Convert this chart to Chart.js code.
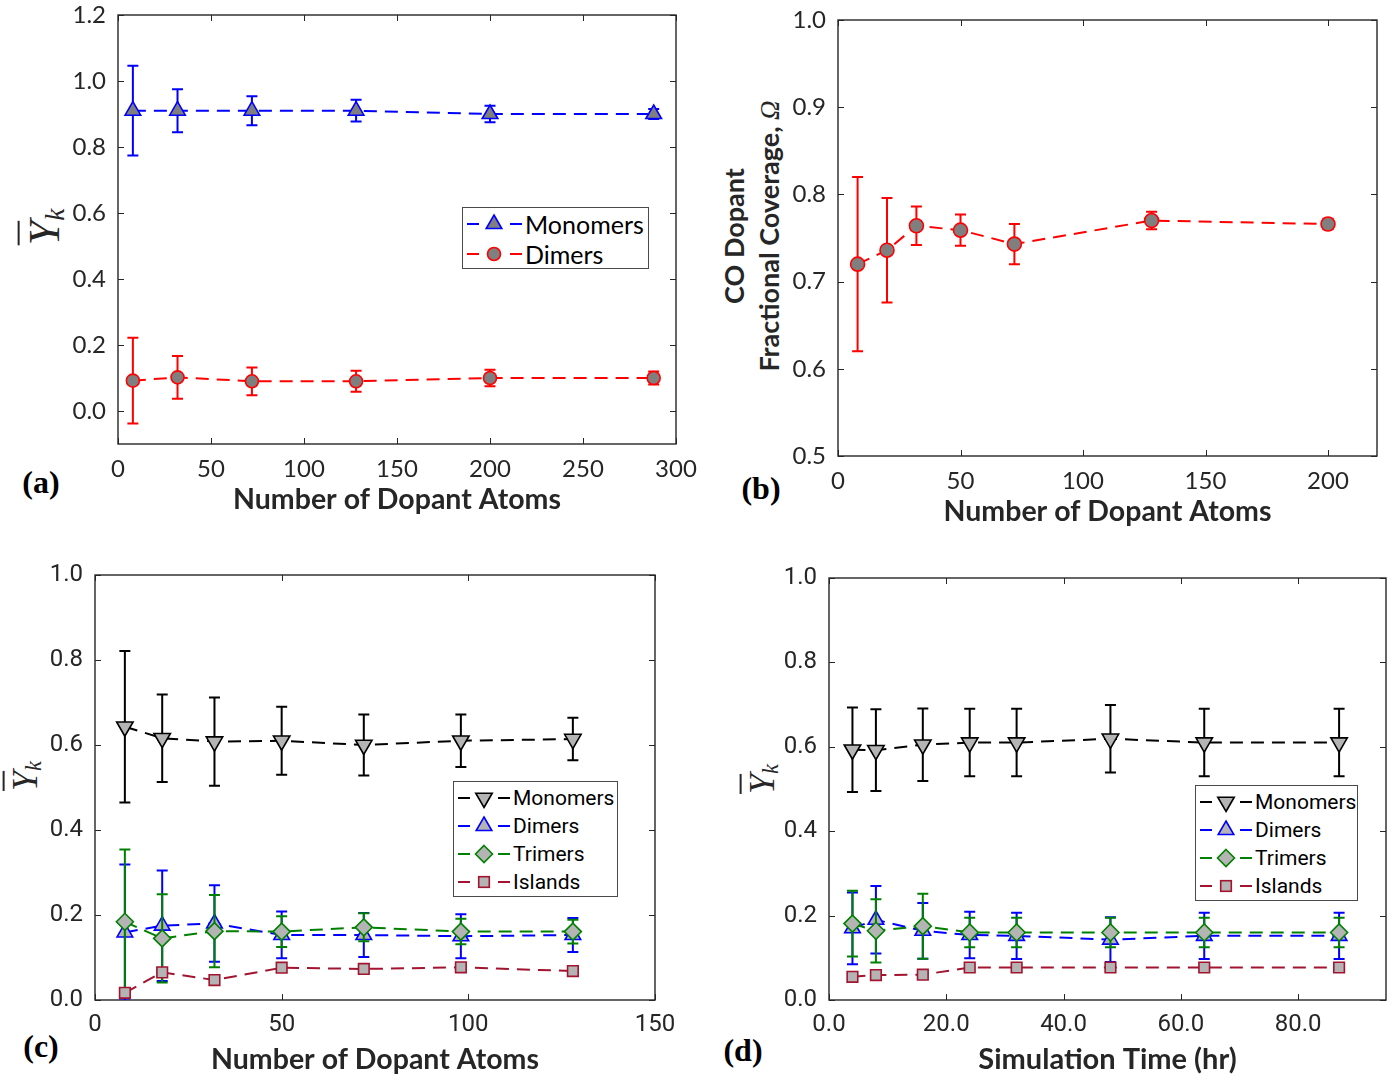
<!DOCTYPE html>
<html>
<head>
<meta charset="utf-8">
<title>Dopant cluster fractions</title>
<script src="https://cdn.jsdelivr.net/npm/chart.js"></script>
<style>
  html, body { margin: 0; padding: 0; background: #fff; }
  #page { position: relative; width: 1400px; height: 1081px; overflow: hidden; }
  #page canvas { position: absolute; }
  .tag { position: absolute; font-family: "Liberation Serif", serif; font-weight: bold; font-size: 32px; line-height: 1; color: #000; transform: translate(-50%, -50%); }
  .ytitle { position: absolute; white-space: nowrap; color: #262626; transform: translate(-50%, -50%) rotate(-90deg); text-align: center; }
  .ysym { font-family: "Liberation Serif", "DejaVu Serif", serif; font-style: italic; color: #262626; line-height: 1; }
  .ysym .bar { text-decoration: overline; text-decoration-thickness: 1.5px; }
  .ysym sub { font-size: 62%; vertical-align: -0.2em; }
  .legend { position: absolute; background: #fff; border: 1px solid #4a4a4a; box-sizing: border-box; color: #000; }
  .legend .row { display: flex; align-items: center; white-space: nowrap; }
  .legend svg { flex: none; }
</style>
</head>
<body>
<div id="page">
  <div class="tag" style="left:41px; top:482px;">(a)</div>
  <div class="tag" style="left:761px; top:488px;">(b)</div>
  <div class="tag" style="left:41px; top:1046px;">(c)</div>
  <div class="tag" style="left:743px; top:1050px;">(d)</div>

  <div class="ytitle ysym" style="left:46px; top:227px; font-size:44px;"><span class="bar">Y</span><sub>k</sub></div>
  <div class="ytitle ysym" style="left:26px; top:776px; font-size:36px;"><span class="bar">Y</span><sub>k</sub></div>
  <div class="ytitle ysym" style="left:763px; top:779px; font-size:36px;"><span class="bar">Y</span><sub>k</sub></div>
  <div class="ytitle" style="left:752px; top:236px; font: bold 27px Lato, sans-serif; line-height:35px;">CO Dopant<br>Fractional Coverage, <i style="font-family:'Liberation Serif', serif; font-weight:normal;">Ω</i></div>
</div>

<script>
// ---- (a) monomer / dimer fraction vs number of dopants ----
const dopantsA = [8, 32, 72, 128, 200, 288];
const monomersA = [0.91, 0.91, 0.91, 0.91, 0.90, 0.90];
const monomersErrA = [0.136, 0.065, 0.044, 0.033, 0.025, 0.015];
const dimersA = [0.092, 0.102, 0.09, 0.09, 0.10, 0.10];
const dimersErrA = [0.13, 0.065, 0.042, 0.032, 0.025, 0.02];
const xTicksA = [0, 50, 100, 150, 200, 250, 300];
const yTicksA = [0, 0.2, 0.4, 0.6, 0.8, 1.0, 1.2];

// ---- (b) CO fractional coverage vs number of dopants ----
const dopantsB = [8, 20, 32, 50, 72, 128, 200];
const coverageB = [0.72, 0.736, 0.764, 0.759, 0.743, 0.770, 0.766];
const coverageErrB = [0.10, 0.06, 0.022, 0.018, 0.023, 0.01, 0.006];
const xTicksB = [0, 50, 100, 150, 200];
const yTicksB = [0.5, 0.6, 0.7, 0.8, 0.9, 1.0];

// ---- (c) cluster fractions vs number of dopants ----
const dopantsC = [8, 18, 32, 50, 72, 98, 128];
const monomersC = [0.643, 0.616, 0.608, 0.61, 0.60, 0.61, 0.614];
const monomersErrC = [0.178, 0.103, 0.104, 0.08, 0.072, 0.062, 0.05];
const dimersC = [0.159, 0.175, 0.18, 0.153, 0.153, 0.15, 0.153];
const dimersErrC = [0.16, 0.13, 0.09, 0.055, 0.052, 0.052, 0.04];
const trimersC = [0.184, 0.145, 0.162, 0.161, 0.171, 0.161, 0.161];
const trimersErrC = [0.17, 0.104, 0.085, 0.036, 0.033, 0.03, 0.028];
const islandsC = [0.017, 0.065, 0.047, 0.076, 0.073, 0.077, 0.068];
const xTicksC = [0, 50, 100, 150];
const yTicksCD = [0, 0.2, 0.4, 0.6, 0.8, 1.0];

// ---- (d) cluster fractions vs simulation time ----
const timeD = [4, 8, 16, 24, 32, 48, 64, 87];
const monomersD = [0.593, 0.592, 0.605, 0.61, 0.61, 0.619, 0.61, 0.61];
const monomersErrD = [0.10, 0.097, 0.086, 0.08, 0.08, 0.08, 0.08, 0.08];
const dimersD = [0.17, 0.19, 0.164, 0.154, 0.152, 0.143, 0.152, 0.152];
const dimersErrD = [0.085, 0.08, 0.066, 0.055, 0.055, 0.053, 0.055, 0.055];
const trimersD = [0.181, 0.164, 0.175, 0.16, 0.16, 0.16, 0.16, 0.16];
const trimersErrD = [0.078, 0.075, 0.077, 0.035, 0.035, 0.035, 0.035, 0.035];
const islandsD = [0.055, 0.059, 0.06, 0.077, 0.077, 0.077, 0.077, 0.077];
const xTicksD = [0, 20, 40, 60, 80];

const AXIS_COLOR = '#262626';
const TICK_LEN = 6;
const page = document.getElementById('page');

function toPoints(xs, ys) {
    return xs.map((x, i) => ({ x: x, y: ys[i] }));
}

// one dashed series with markers and (optional) error bars
function series(label, xs, ys, errs, color, fill, marker, radius, extra) {
    return Object.assign({
        label: label,
        data: toPoints(xs, ys),
        errors: errs,
        borderColor: color,
        borderWidth: 2,
        borderDash: [13, 8],
        tension: 0,
        fill: false,
        pointStyle: marker,
        pointRadius: radius,
        pointBorderWidth: 1.6,
        pointBorderColor: color,
        pointBackgroundColor: fill
    }, extra || {});
}

// closed axes box with inward ticks on all four sides
const boxTicks = {
    id: 'boxTicks',
    beforeDatasetsDraw(chart) {
        const { ctx, chartArea: a, scales: { x, y } } = chart;
        ctx.save();
        ctx.strokeStyle = AXIS_COLOR;
        ctx.lineWidth = 1.4;
        ctx.strokeRect(a.left, a.top, a.width, a.height);
        ctx.beginPath();
        x.ticks.forEach(t => {
            const px = Math.round(x.getPixelForValue(t.value)) + 0.5;
            ctx.moveTo(px, a.bottom); ctx.lineTo(px, a.bottom - TICK_LEN);
            ctx.moveTo(px, a.top); ctx.lineTo(px, a.top + TICK_LEN);
        });
        y.ticks.forEach(t => {
            const py = Math.round(y.getPixelForValue(t.value)) + 0.5;
            ctx.moveTo(a.left, py); ctx.lineTo(a.left + TICK_LEN, py);
            ctx.moveTo(a.right, py); ctx.lineTo(a.right - TICK_LEN, py);
        });
        ctx.lineWidth = 1;
        ctx.stroke();
        ctx.restore();
    }
};

// vertical error bars, drawn just before each dataset so its markers sit on top
const errorBars = {
    id: 'errorBars',
    beforeDatasetDraw(chart, args) {
        const ds = chart.data.datasets[args.index];
        if (!ds.errors) return;
        const { ctx, chartArea: a, scales: { x, y } } = chart;
        const cap = 5.5;
        ctx.save();
        ctx.beginPath();
        ctx.rect(a.left, a.top, a.width, a.height);
        ctx.clip();
        ctx.strokeStyle = ds.borderColor;
        ctx.lineWidth = 2;
        ds.data.forEach((p, i) => {
            const e = ds.errors[i];
            const px = x.getPixelForValue(p.x);
            const lo = y.getPixelForValue(p.y - e);
            const hi = y.getPixelForValue(p.y + e);
            ctx.beginPath();
            ctx.moveTo(px, lo); ctx.lineTo(px, hi);
            ctx.moveTo(px - cap, lo); ctx.lineTo(px + cap, lo);
            ctx.moveTo(px - cap, hi); ctx.lineTo(px + cap, hi);
            ctx.stroke();
        });
        ctx.restore();
    }
};

function makePanel(p) {
    const c = document.createElement('canvas');
    c.width = p.canvas.w;
    c.height = p.canvas.h;
    c.style.left = p.canvas.x + 'px';
    c.style.top = p.canvas.y + 'px';
    page.appendChild(c);

    const titleLH = 1.2;
    const yW = p.box.l - p.canvas.x;
    const xH = p.titleY + p.titleSize * titleLH / 2 - p.box.b;

    return new Chart(c, {
        type: 'line',
        data: { datasets: p.datasets },
        options: {
            responsive: false,
            animation: false,
            events: [],
            layout: {
                padding: {
                    left: 0,
                    top: p.box.t - p.canvas.y,
                    right: p.canvas.x + p.canvas.w - p.box.r,
                    bottom: p.canvas.y + p.canvas.h - p.box.b - xH
                }
            },
            plugins: { legend: { display: false }, tooltip: { enabled: false } },
            scales: {
                x: {
                    type: 'linear',
                    min: p.xMin, max: p.xMax,
                    afterBuildTicks: ax => { ax.ticks = p.xTicks.map(v => ({ value: v })); },
                    // fixed size, no extra room for end labels
                    afterFit: ax => { ax.height = xH; ax.paddingLeft = 0; ax.paddingRight = 0; },
                    grid: { display: false, drawTicks: false },
                    border: { display: false },
                    ticks: {
                        autoSkip: false, maxRotation: 0,
                        padding: 11,
                        color: AXIS_COLOR,
                        font: { family: p.tickFont, size: 24 },
                        callback: v => p.xFmt ? v.toFixed(p.xFmt) : String(v)
                    },
                    title: {
                        display: true,
                        text: p.xTitle,
                        color: AXIS_COLOR,
                        padding: 0,
                        font: { family: 'Lato', weight: 'bold', size: p.titleSize, lineHeight: titleLH }
                    }
                },
                y: {
                    type: 'linear',
                    min: p.yMin, max: p.yMax,
                    afterBuildTicks: ax => { ax.ticks = p.yTicks.map(v => ({ value: v })); },
                    afterFit: ax => { ax.width = yW; ax.paddingTop = 0; ax.paddingBottom = 0; },
                    grid: { display: false, drawTicks: false },
                    border: { display: false },
                    ticks: {
                        autoSkip: false,
                        padding: 12,
                        color: AXIS_COLOR,
                        font: { family: p.tickFont, size: 24 },
                        callback: v => v.toFixed(1)
                    }
                }
            }
        },
        plugins: [boxTicks, errorBars]
    });
}

// marker glyph for the legend, same geometry as the chart's point styles
function markerSvg(ds, cx, cy) {
    const r = ds.pointRadius;
    const st = `fill="${ds.pointBackgroundColor}" stroke="${ds.pointBorderColor}" stroke-width="${ds.pointBorderWidth}"`;
    const flip = ds.pointRotation === 180 ? -1 : 1;
    if (ds.pointStyle === 'circle') return `<circle cx="${cx}" cy="${cy}" r="${r}" ${st}/>`;
    if (ds.pointStyle === 'triangle') {
        const pts = [[0, -r], [0.866 * r, 0.5 * r], [-0.866 * r, 0.5 * r]]
            .map(q => (cx + q[0]) + ',' + (cy + flip * q[1])).join(' ');
        return `<polygon points="${pts}" ${st}/>`;
    }
    if (ds.pointStyle === 'rectRot') {
        const pts = [[0, -r], [r, 0], [0, r], [-r, 0]].map(q => (cx + q[0]) + ',' + (cy + q[1])).join(' ');
        return `<polygon points="${pts}" ${st}/>`;
    }
    const s = Math.SQRT1_2 * r;
    return `<rect x="${cx - s}" y="${cy - s}" width="${2 * s}" height="${2 * s}" ${st}/>`;
}

function makeLegend(chart, lg) {
    const box = document.createElement('div');
    box.className = 'legend';
    box.style.left = lg.x + 'px';
    box.style.top = lg.y + 'px';
    box.style.width = lg.w + 'px';
    box.style.height = lg.h + 'px';
    box.style.paddingTop = lg.padTop + 'px';
    box.style.paddingLeft = lg.padLeft + 'px';
    box.style.font = lg.font;
    chart.data.datasets.forEach(ds => {
        const w = lg.symW, h = lg.rowH, mid = h / 2;
        const seg = lg.seg;
        const svg = `<svg width="${w}" height="${h}">
            <line x1="0" y1="${mid}" x2="${seg}" y2="${mid}" stroke="${ds.borderColor}" stroke-width="2"/>
            <line x1="${w - seg - 3}" y1="${mid}" x2="${w - 3}" y2="${mid}" stroke="${ds.borderColor}" stroke-width="2"/>
            ${markerSvg(ds, lg.markX, mid)}
        </svg>`;
        const row = document.createElement('div');
        row.className = 'row';
        row.style.height = h + 'px';
        row.innerHTML = svg + '<span>' + ds.label + '</span>';
        box.appendChild(row);
    });
    page.appendChild(box);
}

const GRAY_DARK = '#7f7f7f';
const GRAY_LIGHT = '#b4b4b4';

// cluster series for (c) and (d); later entries are drawn on top
function clusterSets(xs, mono, monoErr, di, diErr, tri, triErr, isl) {
    return [
        series('Monomers', xs, mono, monoErr, '#000000', GRAY_LIGHT, 'triangle', 9.5, { pointRotation: 180, order: 3 }),
        series('Dimers', xs, di, diErr, '#0000ff', GRAY_LIGHT, 'triangle', 9, { order: 2 }),
        series('Trimers', xs, tri, triErr, '#008000', GRAY_LIGHT, 'rectRot', 8.5, { order: 1 }),
        series('Islands', xs, isl, null, '#a2142f', GRAY_LIGHT, 'rect', 7.5, { order: 0 })
    ];
}

const chartA = makePanel({
    canvas: { x: 0, y: 0, w: 700, h: 540 },
    box: { l: 118, t: 15, r: 676, b: 444 },
    xMin: 0, xMax: 300, yMin: -0.1, yMax: 1.2,
    xTicks: xTicksA, yTicks: yTicksA,
    tickFont: 'Lato', titleSize: 28.5, titleY: 500,
    xTitle: 'Number of Dopant Atoms',
    datasets: [
        series('Monomers', dopantsA, monomersA, monomersErrA, '#0000ff', GRAY_DARK, 'triangle', 9, { order: 1 }),
        series('Dimers', dopantsA, dimersA, dimersErrA, '#ff0000', GRAY_DARK, 'circle', 6.5, { order: 0 })
    ]
});

makePanel({
    canvas: { x: 700, y: 0, w: 700, h: 540 },
    box: { l: 838, t: 20, r: 1377, b: 456 },
    xMin: 0, xMax: 220, yMin: 0.5, yMax: 1.0,
    xTicks: xTicksB, yTicks: yTicksB,
    tickFont: 'Lato', titleSize: 28.5, titleY: 512,
    xTitle: 'Number of Dopant Atoms',
    datasets: [
        series('Coverage', dopantsB, coverageB, coverageErrB, '#ff0000', GRAY_DARK, 'circle', 7)
    ]
});

const chartC = makePanel({
    canvas: { x: 0, y: 540, w: 700, h: 541 },
    box: { l: 95, t: 575, r: 655, b: 1000 },
    xMin: 0, xMax: 150, yMin: 0, yMax: 1.0,
    xTicks: xTicksC, yTicks: yTicksCD,
    tickFont: 'Roboto', titleSize: 28.5, titleY: 1060,
    xTitle: 'Number of Dopant Atoms',
    datasets: clusterSets(dopantsC, monomersC, monomersErrC, dimersC, dimersErrC, trimersC, trimersErrC, islandsC)
});

const chartD = makePanel({
    canvas: { x: 700, y: 540, w: 700, h: 541 },
    box: { l: 829, t: 578, r: 1386, b: 1000 },
    xMin: 0, xMax: 95, yMin: 0, yMax: 1.0,
    xTicks: xTicksD, yTicks: yTicksCD, xFmt: 1,
    tickFont: 'Roboto', titleSize: 29, titleY: 1060,
    xTitle: 'Simulation Time (hr)',
    datasets: clusterSets(timeD, monomersD, monomersErrD, dimersD, dimersErrD, trimersD, trimersErrD, islandsD)
});

makeLegend(chartA, { x: 462, y: 207, w: 187, h: 62, padTop: 1, padLeft: 4, rowH: 30, symW: 58, seg: 12, markX: 27, font: '25px Lato, sans-serif' });
makeLegend(chartC, { x: 453, y: 781, w: 165, h: 116, padTop: 2, padLeft: 4, rowH: 28, symW: 55, seg: 12, markX: 26, font: '21px Roboto, sans-serif' });
makeLegend(chartD, { x: 1195, y: 785, w: 163, h: 116, padTop: 2, padLeft: 4, rowH: 28, symW: 55, seg: 12, markX: 26, font: '21px Roboto, sans-serif' });
</script>
</body>
</html>
